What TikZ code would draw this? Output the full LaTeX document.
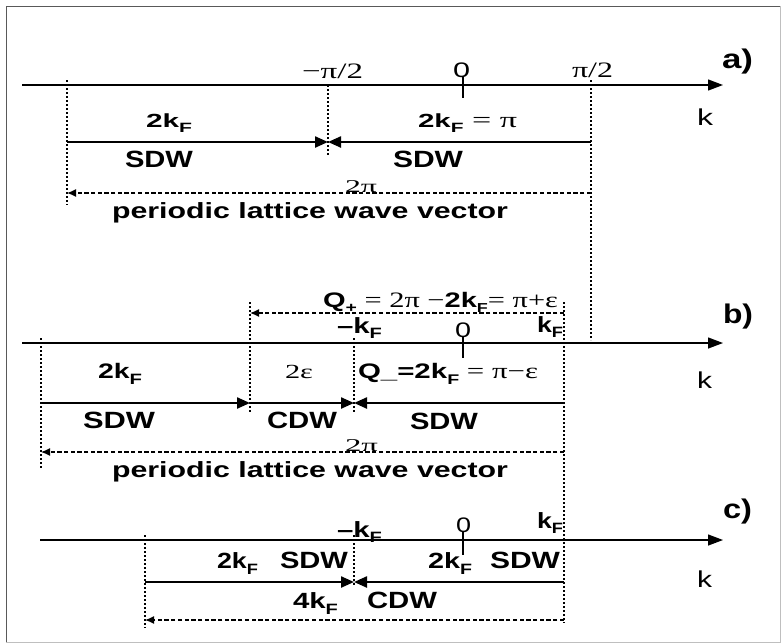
\documentclass[tikz,border=0pt]{standalone}
\usepackage{graphicx}
\usepackage{fontspec}
\setmainfont{Liberation Sans}
\newfontfamily\serif{Liberation Serif}
\usetikzlibrary{arrows.meta}
\newcommand\W[2]{\resizebox{#1pt}{\height}{#2}}
\newcommand\fs[1]{\fontsize{#1}{#1}\selectfont}
\newcommand\sub[3]{\raisebox{-#1pt}{\fs{#2}#3}}
\begin{document}
\begin{tikzpicture}[x=1pt,y=-1pt,
  lbl/.style={inner sep=0pt, outer sep=0pt, anchor=base west},
  axisline/.style={line width=1.3pt, -{Triangle[length=15pt,width=11pt]}},
  seg/.style={line width=2.3pt},
  hd/.style={-{Triangle[length=13pt,width=11pt]}},
  dotl/.style={line width=1.3pt, dash pattern=on 2pt off 2pt},
  dshl/.style={line width=1.3pt, dash pattern=on 4.3pt off 2.4pt, -{Latex[length=9pt,width=8pt]}},
  tick/.style={line width=1.4pt}]
\useasboundingbox (0,0) rectangle (783,643);
% frame
\draw[black!65, line width=1pt] (6,642) -- (6,6) -- (780,6);
\draw[black!25, line width=1pt] (780,6) -- (780,642) -- (6,642);

% ---------------- a ----------------
\coordinate (aA0) at (22,85); \coordinate (aA1) at (723,85);
\draw[axisline] (aA0) -- (aA1);
\coordinate (aT0) at (463,76); \coordinate (aT1) at (463,98);
\draw[tick] (aT0) -- (aT1);
\coordinate (aD1a) at (67,80);  \coordinate (aD1b) at (67,205);
\coordinate (aD2a) at (328,85); \coordinate (aD2b) at (328,155);
\coordinate (aD3a) at (591,80); \coordinate (aD3b) at (591,340);
\draw[dotl] (aD1a) -- (aD1b);
\draw[dotl] (aD2a) -- (aD2b);
\draw[dotl] (aD3a) -- (aD3b);
\coordinate (aS0) at (67,142); \coordinate (aS1) at (328,142); \coordinate (aS2) at (591,142);
\draw[seg,hd] (aS0) -- (aS1);
\draw[seg,hd] (aS2) -- (aS1);
\coordinate (aP0) at (591,193); \coordinate (aP1) at (67,193);
\draw[dshl] (aP0) -- (aP1);

\node[lbl] (amp) at (302,78) {\W{61}{\serif\fs{22}−π/2}};
\node[lbl] (azero) at (453,77) {\W{17}{\fs{21}0}};
\node[lbl] (app) at (572,77) {\W{41}{\serif\fs{22}π/2}};
\node[lbl] (alab) at (722,68) {\W{31}{\bfseries\fs{27}a)}};
\node[lbl] (ak) at (697,125) {\W{16}{\fs{23}k}};
\node[lbl] (a2kf) at (146,127) {\W{46}{\bfseries\fs{19}2k\sub{5}{13.5}{F}}};
\node[lbl] (a2kfpi) at (418,127) {\W{99}{{\bfseries\fs{19}2k\sub{5}{13.5}{F}}{\serif\fs{22}\ = π}}};
\node[lbl] (asdw1) at (125,167) {\W{68}{\bfseries\fs{23.5}SDW}};
\node[lbl] (asdw2) at (393,167) {\W{70}{\bfseries\fs{23.5}SDW}};
\node[lbl] (a2pi) at (345,192) {\W{32}{\serif\fs{18}2π}};
\node[lbl] (aplv) at (112,218) {\W{396}{\bfseries\fs{22}periodic lattice wave vector}};

% ---------------- b ----------------
\coordinate (bA0) at (22,343); \coordinate (bA1) at (723,343);
\draw[axisline] (bA0) -- (bA1);
\coordinate (bT0) at (463,337); \coordinate (bT1) at (463,358);
\draw[tick] (bT0) -- (bT1);
\coordinate (bD1a) at (41,338);  \coordinate (bD1b) at (41,468);
\coordinate (bD2a) at (250,302); \coordinate (bD2b) at (250,413);
\coordinate (bD3a) at (354,338); \coordinate (bD3b) at (354,413);
\coordinate (bD4a) at (564,302); \coordinate (bD4b) at (564,623);
\draw[dotl] (bD1a) -- (bD1b);
\draw[dotl] (bD2a) -- (bD2b);
\draw[dotl] (bD3a) -- (bD3b);
\draw[dotl] (bD4a) -- (bD4b);
\coordinate (bQ0) at (564,313); \coordinate (bQ1) at (250,313);
\draw[dshl] (bQ0) -- (bQ1);
\coordinate (bS0) at (41,403); \coordinate (bS1) at (250,403); \coordinate (bS2) at (354,403); \coordinate (bS3) at (564,403);
\draw[seg,hd] (bS0) -- (bS1);
\draw[seg,hd] (bS1) -- (bS2);
\draw[seg,hd] (bS3) -- (bS2);
\coordinate (bP0) at (564,452); \coordinate (bP1) at (41,452);
\draw[dshl] (bP0) -- (bP1);

\node[lbl] (bqp) at (323,307) {\W{235}{{\bfseries\fs{21}Q\sub{5}{14}{+}}{\serif\fs{22}\ = 2π −}{\bfseries\fs{21}2k\sub{5}{13}{F}}{\serif\fs{22}= π+ε}}};
\node[lbl] (bmkf) at (337,333) {\W{45}{\bfseries\fs{22}–k\sub{5}{15}{F}}};
\node[lbl] (bzero) at (455,337) {\W{16}{\fs{21}0}};
\node[lbl] (bkf) at (537,332) {\W{26}{\bfseries\fs{22}k\sub{5}{15}{F}}};
\node[lbl] (blab) at (723,323) {\W{30}{\bfseries\fs{27}b)}};
\node[lbl] (bk) at (697,388) {\W{15}{\fs{23}k}};
\node[lbl] (b2kf) at (98,378) {\W{44}{\bfseries\fs{21}2k\sub{6}{15}{F}}};
\node[lbl] (b2eps) at (285,378) {\W{28}{\serif\fs{20}2ε}};
\node[lbl] (bqm) at (358,378) {\W{180}{{\bfseries\fs{21}Q\_=2k\sub{6}{14}{F}}{\serif\fs{22}\ = π−ε}}};
\node[lbl] (bsdw1) at (83,428) {\W{72}{\bfseries\fs{23.5}SDW}};
\node[lbl] (bcdw) at (267,428) {\W{70}{\bfseries\fs{23.5}CDW}};
\node[lbl] (bsdw2) at (410,429) {\W{68}{\bfseries\fs{23.5}SDW}};
\node[lbl] (b2pi) at (345,451) {\W{33}{\serif\fs{18}2π}};
\node[lbl] (bplv) at (112,477) {\W{396}{\bfseries\fs{22}periodic lattice wave vector}};

% ---------------- c ----------------
\coordinate (cA0) at (40,540); \coordinate (cA1) at (723,540);
\draw[axisline] (cA0) -- (cA1);
\coordinate (cT0) at (463,532); \coordinate (cT1) at (463,555);
\draw[tick] (cT0) -- (cT1);
\coordinate (cD1a) at (145,535); \coordinate (cD1b) at (145,628);
\coordinate (cD2a) at (354,535); \coordinate (cD2b) at (354,585);
\draw[dotl] (cD1a) -- (cD1b);
\draw[dotl] (cD2a) -- (cD2b);
\coordinate (cS0) at (145,582); \coordinate (cS1) at (354,582); \coordinate (cS2) at (564,582);
\draw[seg,hd] (cS0) -- (cS1);
\draw[seg,hd] (cS2) -- (cS1);
\coordinate (cP0) at (564,620); \coordinate (cP1) at (145,620);
\draw[dshl] (cP0) -- (cP1);

\node[lbl] (cmkf) at (337,537) {\W{45}{\bfseries\fs{22}–k\sub{5}{15}{F}}};
\node[lbl] (czero) at (456,532) {\W{15}{\fs{21}0}};
\node[lbl] (ckf) at (537,528) {\W{26}{\bfseries\fs{22}k\sub{5}{15}{F}}};
\node[lbl] (clab) at (723,518) {\W{29}{\bfseries\fs{27}c)}};
\node[lbl] (ck) at (697,587) {\W{15}{\fs{23}k}};
\node[lbl] (c2kf1) at (217,568) {\W{41}{\bfseries\fs{22}2k\sub{6}{15}{F}}};
\node[lbl] (csdw1) at (280,568) {\W{68}{\bfseries\fs{23.5}SDW}};
\node[lbl] (c2kf2) at (428,568) {\W{44}{\bfseries\fs{22}2k\sub{6}{15}{F}}};
\node[lbl] (csdw2) at (490,568) {\W{70}{\bfseries\fs{23.5}SDW}};
\node[lbl] (c4kf) at (293,608) {\W{45}{\bfseries\fs{22}4k\sub{6}{15}{F}}};
\node[lbl] (ccdw) at (367,608) {\W{70}{\bfseries\fs{23.5}CDW}};
\end{tikzpicture}
\end{document}
